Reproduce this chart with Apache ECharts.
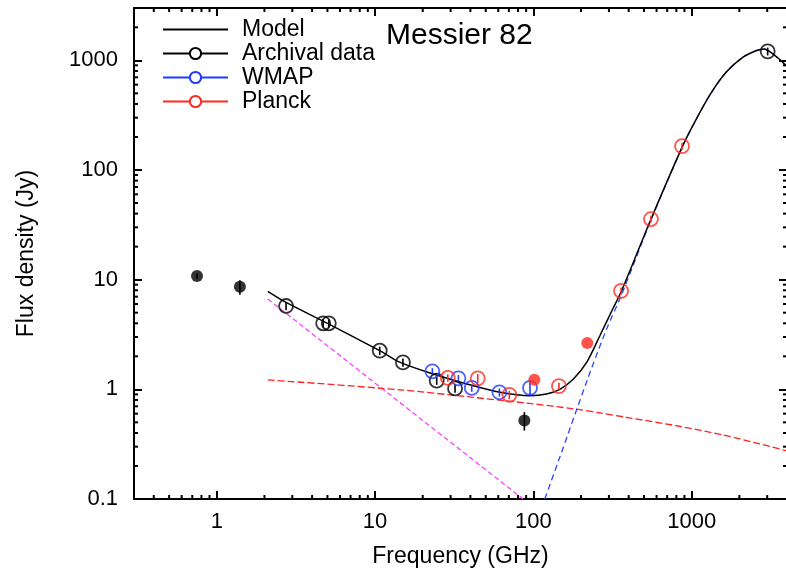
<!DOCTYPE html>
<html><head><meta charset="utf-8">
<script src="https://cdn.jsdelivr.net/npm/echarts@6/dist/echarts.min.js"></script>
<style>html,body{margin:0;padding:0;background:#fff}#c{width:786px;height:570px}</style>
</head><body><div id="c"></div>
<script>
const FONT = '"Liberation Sans", Arial, Helvetica, sans-serif';

// Axis ranges and tick labels
const xRange = [0.3, 4000];
const yRange = [0.1, 3000];
const xTickLabels = ['1', '10', '100', '1000'];
const yTickLabels = ['0.1', '1', '10', '100', '1000'];
const tickMultipliers = [2, 3, 4, 5, 6, 7, 8, 9];
const xDecades = [0.1, 1, 10, 100, 1000];
const yDecades = [0.1, 1, 10, 100, 1000];

// Model (total) curve
const modelFreq = [2.1, 2.74, 5.0, 10.7, 14.4, 23.3, 37.9, 61.5, 95.2, 121, 147, 179, 217, 263, 317, 361, 553, 877, 1015, 1292, 1648, 2100, 2548, 2877, 3048, 3573, 3944];
const modelFlux = [7.83, 6.2, 4.0, 2.25, 1.76, 1.38, 1.12, 0.94, 0.875, 0.906, 1.0, 1.24, 1.76, 3.08, 5.4, 7.93, 35.6, 166, 253, 475, 778, 1065, 1224, 1268, 1225, 1028, 893];

// Synchrotron component (magenta dashed)
const syncFreq = [2.1, 86];
const syncFlux = [6.66, 0.1];

// Free-free component (red dashed)
const ffFreq = [2.1, 14.4, 37.9, 89.9, 186, 263, 385, 796, 1648, 3944];
const ffFlux = [1.22, 0.99, 0.857, 0.75, 0.66, 0.61, 0.556, 0.466, 0.378, 0.276];

// Dust component (blue dashed)
const dustFreq = [118, 146, 220, 290, 361, 553, 877, 1015, 1292, 1648, 2100, 2548, 2877, 3048, 3573, 3944];
const dustFlux = [0.1, 0.235, 1.24, 3.55, 7.3, 35, 165, 252, 474, 777, 1064, 1223, 1267, 1224, 1027, 892];

// Archival data (open)
const archFreq = [2.74, 4.7, 5.1, 10.7, 15.0, 24.5, 32.0, 3020];
const archFlux = [5.75, 4.0, 4.0, 2.25, 1.76, 1.2, 1.02, 1208];
const archErr  = [0.5, 0.35, 0.35, 0.2, 0.15, 0.1, 0.09, 100];
// Archival data (filled)
const archFFreq = [0.75, 1.4, 87.7];
const archFFlux = [10.8, 8.6, 0.52];
const archFErr  = [0.6, 1.3, 0.1];

// WMAP
const wmapFreq = [23, 33.6, 40.8, 61, 95.2];
const wmapFlux = [1.46, 1.26, 1.03, 0.94, 1.03];
const wmapErr  = [0.1, 0.09, 0.08, 0.08, 0.15];

// Planck (open)
const planckFreq = [28.8, 44.5, 70.5, 145, 358, 553, 869];
const planckFlux = [1.27, 1.26, 0.89, 1.07, 7.9, 35.7, 165];
const planckErr  = [0.1, 0.12, 0.08, 0.08, 0.6, 2.5, 12];
// Planck (filled)
const planckFFreq = [101.4, 219];
const planckFFlux = [1.22, 2.64];

const BLACK = '#000000', BLUE = '#1f3cff', RED = '#ff2a1f', MAGENTA = '#ff40ff', DBLUE = '#2a46ff', DRED = '#ff2020';

function zip(a, b) { return a.map((v, i) => [v, b[i]]); }
function errData(f, v, e) { return f.map((x, i) => [x, v[i] - e[i], v[i] + e[i]]); }
function minorList(decades, range) {
  const out = [];
  decades.forEach(d => tickMultipliers.forEach(m => {
    const v = +(d * m).toPrecision(3);
    if (v > range[0] && v < range[1]) out.push(v);
  }));
  return out;
}
const xMinor = minorList(xDecades, xRange);
const yMinor = minorList(yDecades, yRange);

function fmt(v) { return String(+(+v).toPrecision(3)); }

function errSeries(data, color) {
  return {
    type: 'custom', silent: true, z: 3,
    data: data, encode: { x: 0, y: [1, 2] },
    renderItem: function (params, api) {
      const p1 = api.coord([api.value(0), api.value(1)]);
      const p2 = api.coord([api.value(0), api.value(2)]);
      return { type: 'line', shape: { x1: p1[0], y1: p1[1], x2: p2[0], y2: p2[1] },
        style: { stroke: color, lineWidth: 1.6 } };
    }
  };
}

const axisCommon = {
  type: 'log', logBase: 10,
  axisLine: { show: true, lineStyle: { color: '#000', width: 2 } },
  axisTick: { show: true, inside: true, length: 8, lineStyle: { color: '#000', width: 2 } },
  splitLine: { show: false },
  minorTick: { show: false }
};

const chart = echarts.init(document.getElementById('c'), null, { renderer: 'canvas' });
chart.setOption({
  animation: false,
  backgroundColor: '#fff',
  title: {
    text: 'Messier 82', left: 386, top: 21, padding: 0,
    textStyle: { fontSize: 30, fontWeight: 'normal', fontFamily: FONT, color: '#000' }
  },
  legend: {
    orient: 'vertical', left: 162, top: 18, padding: 0, itemGap: 1,
    itemWidth: 65, itemHeight: 14, selectedMode: false,
    textStyle: { fontSize: 23, fontFamily: FONT, color: '#000', padding: [0, 0, 0, 9] },
    data: [
      { name: 'Model', itemStyle: { opacity: 0 } },
      'Archival data', 'WMAP', 'Planck'
    ]
  },
  grid: { left: 134, top: 8, width: 653, height: 491, containLabel: false, outerBoundsMode: 'none' },
  xAxis: [
    Object.assign({}, axisCommon, {
      position: 'bottom', min: xRange[0], max: xRange[1],
      name: 'Frequency (GHz)', nameLocation: 'middle', nameGap: 46,
      nameTextStyle: { fontSize: 23, fontFamily: FONT, color: '#000' },
      axisLabel: {
        show: true, margin: 12, fontSize: 22, fontFamily: FONT, color: '#000',
        showMinLabel: false, showMaxLabel: false,
        formatter: v => { const s = fmt(v); return xTickLabels.includes(s) ? s : ''; }
      }
    }),
    Object.assign({}, axisCommon, {
      position: 'top', min: xRange[0], max: xRange[1], axisLabel: { show: false }
    })
  ],
  yAxis: [
    Object.assign({}, axisCommon, {
      position: 'left', min: yRange[0], max: yRange[1],
      name: 'Flux density (Jy)', nameLocation: 'middle', nameGap: 96, nameRotate: 90,
      nameTextStyle: { fontSize: 23, fontFamily: FONT, color: '#000' },
      axisLabel: {
        show: true, margin: 16, fontSize: 22, fontFamily: FONT, color: '#000',
        showMinLabel: true, showMaxLabel: false,
        formatter: v => { const s = fmt(v); return yTickLabels.includes(s) ? s : ''; }
      }
    }),
    Object.assign({}, axisCommon, {
      position: 'right', min: yRange[0], max: yRange[1], axisLabel: { show: false }
    })
  ],
  series: [
    // minor ticks on x (bottom + top)
    {
      type: 'custom', silent: true, z: 10,
      data: xMinor.map(v => [v, yRange[0]]), encode: { x: 0, y: 1 },
      renderItem: function (params, api) {
        const b = api.coord([api.value(0), yRange[0]]);
        const t = api.coord([api.value(0), yRange[1]]);
        return { type: 'group', children: [
          { type: 'line', shape: { x1: b[0], y1: b[1], x2: b[0], y2: b[1] - 4 }, style: { stroke: '#000', lineWidth: 2 } },
          { type: 'line', shape: { x1: t[0], y1: t[1], x2: t[0], y2: t[1] + 4 }, style: { stroke: '#000', lineWidth: 2 } }
        ] };
      }
    },
    // minor ticks on y (left + right)
    {
      type: 'custom', silent: true, z: 10,
      data: yMinor.map(v => [xRange[0], v]), encode: { x: 0, y: 1 },
      renderItem: function (params, api) {
        const l = api.coord([xRange[0], api.value(1)]);
        const r = api.coord([xRange[1], api.value(1)]);
        return { type: 'group', children: [
          { type: 'line', shape: { x1: l[0], y1: l[1], x2: l[0] + 4, y2: l[1] }, style: { stroke: '#000', lineWidth: 2 } },
          { type: 'line', shape: { x1: r[0], y1: r[1], x2: r[0] - 4, y2: r[1] }, style: { stroke: '#000', lineWidth: 2 } }
        ] };
      }
    },
    { name: 'Sync', type: 'line', data: zip(syncFreq, syncFlux), symbol: 'none', z: 2,
      lineStyle: { color: MAGENTA, width: 1.3, type: [5, 3] } },
    { name: 'FreeFree', type: 'line', data: zip(ffFreq, ffFlux), symbol: 'none', smooth: 0.3, z: 2,
      lineStyle: { color: DRED, width: 1.3, type: [7, 3] } },
    { name: 'Dust', type: 'line', data: zip(dustFreq, dustFlux), symbol: 'none', smooth: 0.3, z: 2,
      lineStyle: { color: DBLUE, width: 1.3, type: [6, 4] } },
    { name: 'Model', type: 'line', data: zip(modelFreq, modelFlux), symbol: 'none', smooth: 0.3, z: 2,
      color: BLACK, lineStyle: { color: BLACK, width: 1.5 } },
    // legend-only entries
    { name: 'Archival data', type: 'line', data: [], symbol: 'emptyCircle', symbolSize: 11,
      color: BLACK, itemStyle: { color: BLACK, borderWidth: 2 }, lineStyle: { color: BLACK, width: 2 } },
    { name: 'WMAP', type: 'line', data: [], symbol: 'emptyCircle', symbolSize: 11,
      color: BLUE, itemStyle: { color: BLUE, borderWidth: 2 }, lineStyle: { color: BLUE, width: 2 } },
    { name: 'Planck', type: 'line', data: [], symbol: 'emptyCircle', symbolSize: 11,
      color: RED, itemStyle: { color: RED, borderWidth: 2 }, lineStyle: { color: RED, width: 2 } },
    // error bars
    errSeries(errData(archFreq, archFlux, archErr), BLACK),
    errSeries(errData(archFFreq, archFFlux, archFErr), BLACK),
    errSeries(errData(wmapFreq, wmapFlux, wmapErr), BLUE),
    errSeries(errData(planckFreq, planckFlux, planckErr), RED),
    // points
    { name: 'archOpen', type: 'scatter', data: zip(archFreq, archFlux), symbol: 'circle', symbolSize: 14, z: 4,
      itemStyle: { color: 'rgba(0,0,0,0)', borderColor: BLACK, borderWidth: 1.8 } },
    { name: 'archFilled', type: 'scatter', data: zip(archFFreq, archFFlux), symbol: 'circle', symbolSize: 12, z: 4,
      itemStyle: { color: BLACK } },
    { name: 'wmapPts', type: 'scatter', data: zip(wmapFreq, wmapFlux), symbol: 'circle', symbolSize: 14, z: 4,
      itemStyle: { color: 'rgba(0,0,0,0)', borderColor: BLUE, borderWidth: 1.8 } },
    { name: 'planckOpen', type: 'scatter', data: zip(planckFreq, planckFlux), symbol: 'circle', symbolSize: 14, z: 4,
      itemStyle: { color: 'rgba(0,0,0,0)', borderColor: RED, borderWidth: 1.8 } },
    { name: 'planckFilled', type: 'scatter', data: zip(planckFFreq, planckFFlux), symbol: 'circle', symbolSize: 12, z: 4,
      itemStyle: { color: RED } }
  ]
});
</script>
</body></html>
